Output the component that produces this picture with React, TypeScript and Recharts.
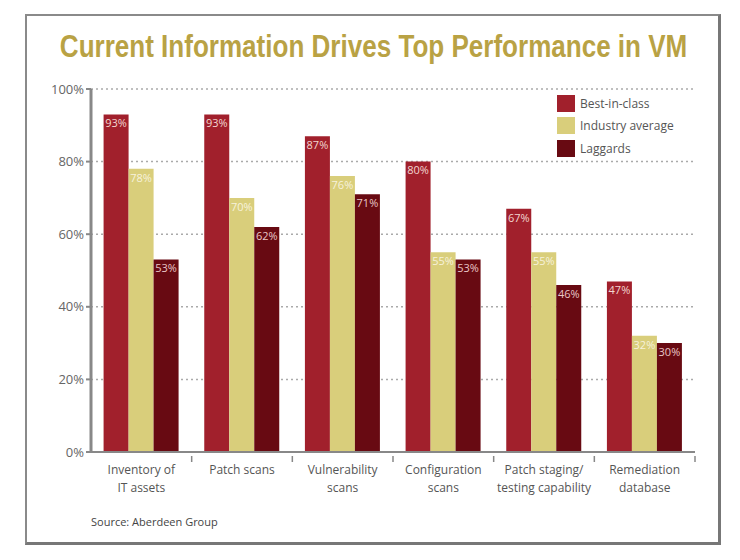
import React from "react";
import {
  BarChart,
  Bar,
  XAxis,
  YAxis,
  CartesianGrid,
  LabelList,
} from "recharts";

const categories = [
  "Inventory of\nIT assets",
  "Patch scans",
  "Vulnerability\nscans",
  "Configuration\nscans",
  "Patch staging/\ntesting capability",
  "Remediation\ndatabase",
];
const bestInClass = [93, 93, 87, 80, 67, 47];
const industryAverage = [78, 70, 76, 55, 55, 32];
const laggards = [53, 62, 71, 53, 46, 30];
const yTicks = [0, 20, 40, 60, 80, 100];

const seriesNames = ["Best-in-class", "Industry average", "Laggards"];
const seriesColors = ["#A1202C", "#D9CE7B", "#680A12"];

const data = categories.map((c, i) => ({
  name: c,
  best: bestInClass[i],
  avg: industryAverage[i],
  lag: laggards[i],
}));

const FONT = "'Open Sans', 'DejaVu Sans', sans-serif";

// Category label plus a small separator tick at the band's right edge
const CategoryTick = (props: any) => {
  const { x, y, payload } = props;
  const half = (payload.offset ?? 50.4);
  const lines = String(payload.value).split("\n");
  return (
    <g transform={`translate(${x},${y})`}>
      <line x1={half} x2={half} y1={-4} y2={2} stroke="#888" strokeWidth={1.5} />
      {lines.map((l, i) => (
        <text
          key={i}
          x={0}
          y={14 + i * 18}
          textAnchor="middle"
          fontSize={12}
          fontFamily={FONT}
          fill="#555"
        >
          {l}
        </text>
      ))}
    </g>
  );
};

const LegendBox = () => (
  <div
    style={{
      position: "absolute",
      left: 557,
      top: 92,
      fontFamily: FONT,
      fontSize: 12,
      color: "#555",
    }}
  >
    {seriesNames.map((n, i) => (
      <div
        key={n}
        style={{ display: "flex", alignItems: "center", height: 22.5 }}
      >
        <span
          style={{
            display: "inline-block",
            width: 18,
            height: 17,
            background: seriesColors[i],
            marginRight: 5,
          }}
        />
        <span>{n}</span>
      </div>
    ))}
  </div>
);

const valueLabel = (v: any) => `${v}%`;

export default function App() {
  return (
    <div
      style={{
        position: "absolute",
        left: 0,
        top: 0,
        width: 740,
        height: 560,
        background: "#fff",
      }}
    >
      <div
        style={{
          position: "absolute",
          left: 25,
          top: 14,
          width: 691,
          height: 526,
          borderTop: "2px solid #8a8a8a",
          borderLeft: "2px solid #8a8a8a",
          borderRight: "3px solid #777",
          borderBottom: "3px solid #777",
        }}
      />
      <div
        style={{
          position: "absolute",
          left: 0,
          top: 27,
          width: 740,
          textAlign: "center",
          whiteSpace: "nowrap",
          fontFamily: "'Liberation Sans', 'DejaVu Sans', sans-serif",
          fontWeight: "bold",
          fontSize: 31,
          lineHeight: "40px",
          color: "#B9A244",
          transform: "scaleX(0.84)",
          transformOrigin: "374px 0",
        }}
      >
        Current Information Drives Top Performance in VM
      </div>
      <BarChart
        width={740}
        height={560}
        data={data}
        margin={{ top: 89, right: 45, bottom: 68, left: 0 }}
        barCategoryGap="12.5%"
        barGap={0}
        style={{ position: "absolute", left: 0, top: 0 }}
      >
        <CartesianGrid
          vertical={false}
          stroke="#aaa"
          strokeDasharray="2 3"
          strokeWidth={1.5}
        />
        <XAxis
          dataKey="name"
          interval={0}
          height={40}
          tick={<CategoryTick />}
          tickLine={false}
          axisLine={{ stroke: "#888", strokeWidth: 2 }}
        />
        <YAxis
          width={91}
          domain={[0, 100]}
          ticks={yTicks}
          tickFormatter={(v: number) => `${v}%`}
          tick={{ fontSize: 13, fontFamily: FONT, fill: "#666" }}
          tickLine={{ stroke: "#888", strokeWidth: 2 }}
          tickSize={5}
          axisLine={{ stroke: "#888", strokeWidth: 3 }}
        />
        <Bar dataKey="best" name={seriesNames[0]} fill={seriesColors[0]} isAnimationActive={false}>
          <LabelList
            dataKey="best"
            position="insideTop"
            offset={5}
            formatter={valueLabel}
            style={{ fontSize: 11, fontFamily: FONT, fill: "#f2d6d0" }}
          />
        </Bar>
        <Bar dataKey="avg" name={seriesNames[1]} fill={seriesColors[1]} isAnimationActive={false}>
          <LabelList
            dataKey="avg"
            position="insideTop"
            offset={5}
            formatter={valueLabel}
            style={{ fontSize: 11, fontFamily: FONT, fill: "#f7f2dc" }}
          />
        </Bar>
        <Bar dataKey="lag" name={seriesNames[2]} fill={seriesColors[2]} isAnimationActive={false}>
          <LabelList
            dataKey="lag"
            position="insideTop"
            offset={5}
            formatter={valueLabel}
            style={{ fontSize: 11, fontFamily: FONT, fill: "#e8c6c6" }}
          />
        </Bar>
      </BarChart>
      <LegendBox />
      <div
        style={{
          position: "absolute",
          left: 91,
          top: 514,
          fontFamily: FONT,
          fontSize: 11,
          color: "#444",
        }}
      >
        Source: Aberdeen Group
      </div>
    </div>
  );
}
